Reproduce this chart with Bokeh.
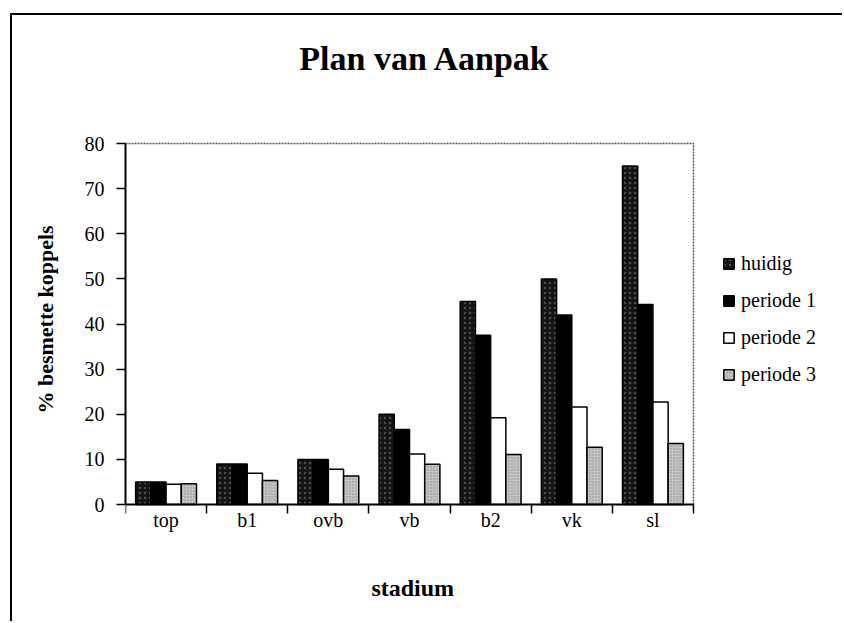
from bokeh.plotting import figure
from bokeh.models import (ColumnDataSource, FixedTicker, Legend, LegendItem, Range1d, Label)
from bokeh.embed import file_html
from bokeh.resources import INLINE

# Data: % infected herds per stage, current situation and three planned periods
stadia = ["top", "b1", "ovb", "vb", "b2", "vk", "sl"]
huidig = [5, 9, 10, 20, 45, 50, 75]
periode_1 = [5, 9, 10, 16.6, 37.5, 42, 44.3]
periode_2 = [4.5, 6.9, 7.8, 11.2, 19.2, 21.6, 22.7]
periode_3 = [4.6, 5.3, 6.3, 8.9, 11.1, 12.7, 13.5]
y_ticks = [0, 10, 20, 30, 40, 50, 60, 70, 80]

series = [
    ("huidig", huidig, dict(fill_color="#141414", hatch_pattern="dot", hatch_color="#4c4c4c", hatch_scale=5)),
    ("periode 1", periode_1, dict(fill_color="#000000")),
    ("periode 2", periode_2, dict(fill_color="#ffffff")),
    ("periode 3", periode_3, dict(fill_color="#c4c4c4", hatch_pattern="dot", hatch_color="#8a8a8a", hatch_scale=3)),
]

FONT = "Liberation Serif"
n = len(stadia)
y_max = 80
bar_w = 0.1875
offsets = [-0.28125, -0.09375, 0.09375, 0.28125]

# Canvas geometry (px). The frame fills the canvas; the bar area proper is
# 568 px wide (7 stages) and 361 px tall (0..80 %), with room above for the
# title, below for the stage axis and to the right for the legend.
W, H = 832, 608
left = 113
cat_px, val_px = 568, 361
above_px, below_px = 128, 119
x_end = n * (W - left) / cat_px
y_top = y_max * (1 + above_px / val_px)
y_bot = -y_max * below_px / val_px

p = figure(width=W, height=H, output_backend="svg", toolbar_location=None,
           x_range=Range1d(0, x_end), y_range=Range1d(y_bot, y_top),
           min_border_left=left, min_border_right=0,
           min_border_top=0, min_border_bottom=0)
p.margin = (13, 0, 0, 10)
p.styles = {"border-left": "2px solid #000", "border-top": "2px solid #000",
            "border-right": "none", "border-bottom": "none"}

p.grid.visible = False
p.background_fill_color = "#ffffff"
p.border_fill_color = "#ffffff"
p.outline_line_color = None

# dotted plot-area border (top and right)
p.line(x=[0, n, n], y=[y_max, y_max, 0], line_color="#555555", line_width=1.5, line_dash="2 1")

items = []
for (name, vals, style), off in zip(series, offsets):
    src = ColumnDataSource(dict(x=[i + 0.5 + off for i in range(n)], top=vals))
    r = p.vbar(x="x", top="top", width=bar_w, bottom=0, source=src,
               line_color="#000000", line_width=1.5, **style)
    items.append(LegendItem(label=name, renderers=[r]))

# x axis on the zero line: labels at stage centres, ticks between stages
p.xaxis.fixed_location = 0
p.xaxis.bounds = (0, n)
p.xaxis.ticker = FixedTicker(ticks=[i + 0.5 for i in range(n)], minor_ticks=list(range(n + 1)))
p.xaxis.major_label_overrides = {i + 0.5: s for i, s in enumerate(stadia)}
p.xaxis.major_tick_out = 0
p.xaxis.major_tick_in = 0
p.xaxis.minor_tick_out = 9
p.xaxis.minor_tick_in = 0
p.xaxis.minor_tick_line_color = "#000000"
p.xaxis.minor_tick_line_width = 1.5
p.xaxis.axis_line_width = 2
p.xaxis.axis_line_color = "#000000"
p.xaxis.major_label_standoff = -5
p.xaxis.major_label_text_font = FONT
p.xaxis.major_label_text_font_size = "20px"
p.xaxis.major_label_text_color = "#000000"

p.yaxis.bounds = (0, y_max)
p.yaxis.ticker = FixedTicker(ticks=y_ticks)
p.yaxis.major_tick_out = 9
p.yaxis.major_tick_in = 0
p.yaxis.major_tick_line_width = 1.5
p.yaxis.minor_tick_line_color = None
p.yaxis.axis_line_width = 2
p.yaxis.axis_line_color = "#000000"
p.yaxis.major_label_standoff = 12
p.yaxis.major_label_text_font = FONT
p.yaxis.major_label_text_font_size = "20px"
p.yaxis.major_label_text_color = "#000000"
p.yaxis.axis_label = "% besmette koppels"
p.yaxis.axis_label_text_font = FONT
p.yaxis.axis_label_text_font_size = "22px"
p.yaxis.axis_label_text_font_style = "bold"
p.yaxis.axis_label_text_color = "#000000"
p.yaxis.axis_label_standoff = 24

title = Label(x=3.69, y=98.8, text="Plan van Aanpak", text_font=FONT, text_font_size="34px",
              text_font_style="bold", text_color="#000000", text_align="center",
              text_baseline="middle")
p.add_layout(title)

x_title = Label(x=3.54, y=-18.4, text="stadium", text_font=FONT, text_font_size="24px",
                text_font_style="bold", text_color="#000000", text_align="center",
                text_baseline="middle")
p.add_layout(x_title)

legend = Legend(items=items, location=(597, 237), orientation="vertical",
                border_line_color=None, background_fill_alpha=0,
                label_text_font=FONT, label_text_font_size="20px", label_text_color="#000000",
                glyph_width=13, glyph_height=13, label_height=24, spacing=13,
                label_standoff=6, padding=0, margin=0)
p.add_layout(legend, "center")

open("out.html", "w").write(file_html(p, INLINE))
